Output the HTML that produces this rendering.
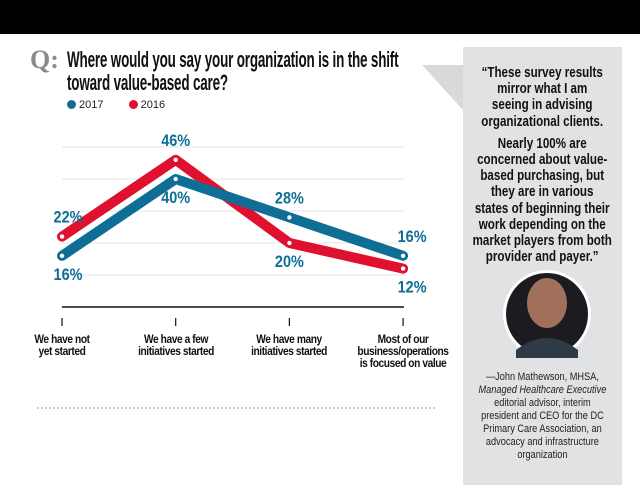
<!DOCTYPE html>
<html><head><meta charset="utf-8"><style>
body{margin:0;width:640px;height:503px;background:#fff;position:relative;overflow:hidden;font-family:"Liberation Sans",sans-serif}
.abs{position:absolute}
.cond{transform-origin:0 0;white-space:nowrap}
</style></head><body>
<div class="abs" style="left:0;top:0;width:640px;height:34px;background:#000"></div>
<div class="abs" style="left:30px;top:45px;font-family:'Liberation Serif',serif;font-weight:bold;font-size:26px;color:#8a8a8a">Q:</div>
<div class="abs cond" style="left:67px;top:48px;font-size:22px;font-weight:bold;line-height:23px;color:#111;transform:scaleX(0.612);letter-spacing:-0.3px">Where would you say your organization is in the shift<br>toward value-based care?</div>
<svg class="abs" style="left:0;top:0" width="640" height="503">
<polygon points="422,65 463,65 463,110" fill="#d9d9d9"/>
<rect x="463" y="47" width="159" height="438" fill="#e1e2e4"/>
<g id="g"></g>
<line x1="37" y1="408" x2="437" y2="408" stroke="#999" stroke-dasharray="2,2"/>
<circle cx="547" cy="314" r="44" fill="#fff"/>
<circle cx="547" cy="314" r="41" fill="#1c1c20"/>
<ellipse cx="547" cy="303" rx="20" ry="25" fill="#a0705a"/>
<path d="M516,350 Q547,326 578,350 L578,358 L516,358Z" fill="#2f3a48"/>
</svg>
<div class="abs" style="left:67px;top:99px;font-size:11px;color:#222">
<span><span style="display:inline-block;width:9px;height:9px;border-radius:50%;background:#0e6e96;vertical-align:-1px"></span> 2017</span>
<span style="margin-left:22px"><span style="display:inline-block;width:9px;height:9px;border-radius:50%;background:#e0102f;vertical-align:-1px"></span> 2016</span></div>
<div class="abs cond" style="left:463px;top:65px;width:198px;white-space:normal;transform:scaleX(0.8);text-align:center;font-weight:bold;font-size:14.5px;line-height:16.2px;color:#111">“These survey results<br>mirror what I am<br>seeing in advising<br>organizational clients.<div style="height:6px"></div>Nearly 100% are<br>concerned about value-<br>based purchasing, but<br>they are in various<br>states of beginning their<br>work depending on the<br>market players from both<br>provider and payer.”</div>
<div class="abs cond" style="left:463px;top:371px;width:190px;white-space:normal;transform:scaleX(0.836);text-align:center;font-size:11px;line-height:13px;color:#222">—John Mathewson, MHSA,<br><i>Managed Healthcare Executive</i><br>editorial advisor, interim<br>president and CEO for the DC<br>Primary Care Association, an<br>advocacy and infrastructure<br>organization</div>
<script>
const categories=["We have not<br>yet started","We have a few<br>initiatives started","We have many<br>initiatives started","Most of our<br>business/operations<br>is focused on value"];
const values2017=[16,40,28,16];
const values2016=[22,46,20,12];
const gridTicks=[10,20,30,40,50];
const NS="http://www.w3.org/2000/svg";
const g=document.getElementById('g');
const xs=i=>62+i*113.7;
const ys=v=>307-3.2*v;
function el(t,a){const e=document.createElementNS(NS,t);for(const k in a)e.setAttribute(k,a[k]);g.appendChild(e);return e;}
gridTicks.forEach(t=>{const l=el('line',{x1:62,x2:405,y1:ys(t),y2:ys(t),stroke:'#e6e6e6'});

});
const ax=el('line',{x1:62,x2:404,y1:307,y2:307,stroke:'#111','stroke-width':1.5});


categories.forEach((c,i)=>{const t=el('line',{x1:xs(i),x2:xs(i),y1:318,y2:326,stroke:'#111','stroke-width':1.2});


const d=document.createElement('div');d.className='abs';d.innerHTML=c;
d.style.cssText=`left:${xs(i)-90}px;top:333px;width:180px;text-align:center;font-weight:bold;font-size:12px;line-height:12px;color:#111;letter-spacing:-0.5px;transform:scaleX(0.85);transform-origin:50% 0`;


document.body.appendChild(d);});
function series(vals,col,name,above){
const p=el('polyline',{points:vals.map((v,i)=>xs(i)+','+ys(v)).join(' '),fill:'none',stroke:col,'stroke-width':10,'stroke-linejoin':'round','stroke-linecap':'round'});


vals.forEach((v,i)=>{const c=el('circle',{cx:xs(i),cy:ys(v),r:2.2,fill:'#fff'});


const cx=xs(i)+(i==0?6:i==3?9:0);
const up=above[i];const t=el('text',{x:cx,y:up?ys(v)-14:ys(v)+24,'text-anchor':'middle','font-size':17,'font-weight':'bold',fill:'#0e6e96','font-family':'Liberation Sans, sans-serif',transform:`translate(${cx},0) scale(0.85,1) translate(${-cx},0)`});
t.textContent=v+'%';

});}
series(values2016,'#e0102f','series-2016',[true,true,false,false]);
series(values2017,'#0e6e96','series-2017',[false,false,true,true]);
</script>
</body></html>
